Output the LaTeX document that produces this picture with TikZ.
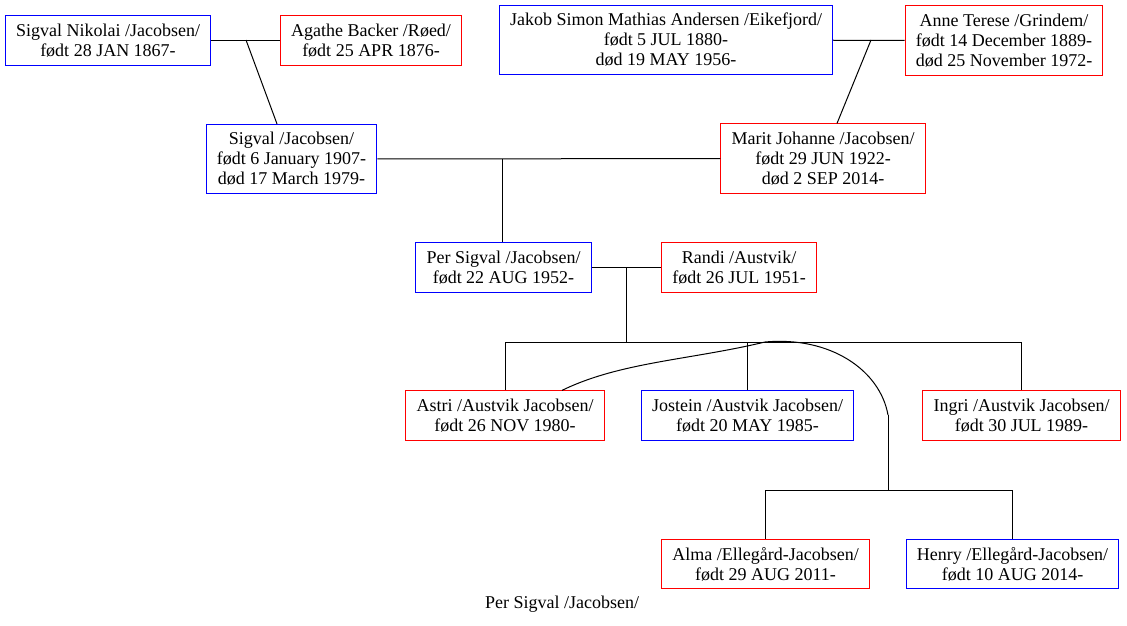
\documentclass[tikz,border=0pt]{standalone}
\usepackage{fontspec}
\setmainfont{Liberation Serif}
\usetikzlibrary{calc}
\tikzset{
  person/.style={draw, line width=0.75pt, align=center, inner xsep=8pt, inner ysep=6pt,
    font=\fontsize{13.5}{15}\selectfont, text=black},
  male/.style={person, color=blue, text=black},
  female/.style={person, color=red, text=black},
  link/.style={line width=0.75pt}
}
\begin{document}
\begin{tikzpicture}[x=0.75pt, y=-0.75pt]
    \useasboundingbox (0,0) rectangle (1127,625);

    % Grandparents
    \node[male]   (sigvalN) at (108,40.5) {Sigval Nikolai /Jacobsen/\\født 28 JAN 1867-};
    \node[female] (agathe)  at (371,40.5) {Agathe Backer /Røed/\\født 25 APR 1876-};
    \node[male]   (jakob)   at (666,40)   {Jakob Simon Mathias Andersen /Eikefjord/\\født 5 JUL 1880-\\død 19 MAY 1956-};
    \node[female] (anne)    at (1004,40.5) {Anne Terese /Grindem/\\født 14 December 1889-\\død 25 November 1972-};

    % Parents
    \node[male]   (sigval) at (291.5,159) {Sigval /Jacobsen/\\født 6 January 1907-\\død 17 March 1979-};
    \node[female] (marit)  at (823,158.5) {Marit Johanne /Jacobsen/\\født 29 JUN 1922-\\død 2 SEP 2014-};

    % Per and Randi
    \node[male]   (per)   at (503.5,267.5) {Per Sigval /Jacobsen/\\født 22 AUG 1952-};
    \node[female] (randi) at (739,267.5)   {Randi /Austvik/\\født 26 JUL 1951-};

    % Children
    \node[female] (astri)   at (505,415.5)    {Astri /Austvik Jacobsen/\\født 26 NOV 1980-};
    \node[male]   (jostein) at (747.5,415.5)  {Jostein /Austvik Jacobsen/\\født 20 MAY 1985-};
    \node[female] (ingri)   at (1021.5,415.5) {Ingri /Austvik Jacobsen/\\født 30 JUL 1989-};

    % Grandchildren
    \node[female] (alma)  at (765.5,564)  {Alma /Ellegård-Jacobsen/\\født 29 AUG 2011-};
    \node[male]   (henry) at (1012.5,564) {Henry /Ellegård-Jacobsen/\\født 10 AUG 2014-};

    \node[font=\fontsize{13.5}{15}\selectfont] (caption) at (562,604) {Per Sigval /Jacobsen/};

    % Marriages and descent
    \coordinate (m1) at (246,40);
    \coordinate (m2) at (871,40);
    \coordinate (m3) at (502,159);
    \coordinate (m4) at ($(per.east)!0.5!(randi.west)$);
    \coordinate (sib) at (626,342);
    \coordinate (bend) at (888,415);
    \coordinate (kids) at (888,490);

    \draw[link] (sigvalN) -- (agathe);
    \draw[link] (m1) -- ($(sigval.north)+(-14.5,0)$);
    \draw[link] (jakob) -- (anne);
    \draw[link] (m2) -- ($(marit.north)+(14,0)$);
    \draw[link] (sigval) -- (marit);
    \draw[link] (m3) -- (m3 |- per.north);
    \draw[link] (per) -- (randi);
    \draw[link] (m4) -- (m4 |- sib);

    % Siblings
    \draw[link] (astri.north |- sib) -- (ingri.north |- sib);
    \draw[link] (astri.north |- sib) -- (astri.north);
    \draw[link] (jostein.north |- sib) -- (jostein.north);
    \draw[link] (ingri.north |- sib) -- (ingri.north);

    % Astri's family
    \draw[link] ($(astri.north)+(57,0)$) .. controls (620,362) and (690,360) .. (765,342)
      .. controls (830,336) and (880,370) .. (bend);
    \draw[link] (bend) -- (kids);
    \draw[link] (alma.north |- kids) -- (henry.north |- kids);
    \draw[link] (alma.north |- kids) -- (alma.north);
    \draw[link] (henry.north |- kids) -- (henry.north);
\end{tikzpicture}
\end{document}
